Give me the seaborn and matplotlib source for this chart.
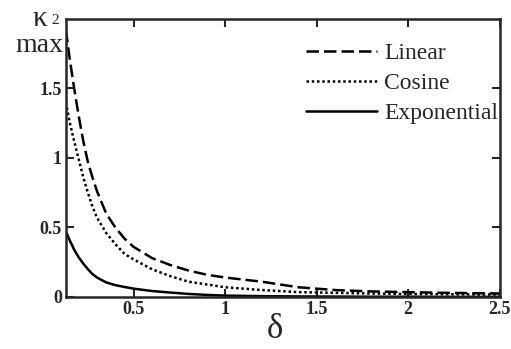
import pandas as pd
import matplotlib
matplotlib.use("Agg")
import matplotlib.pyplot as plt
import seaborn as sns

# data
delta = [0.13, 0.15, 0.175, 0.2, 0.225, 0.25, 0.275, 0.3, 0.35, 0.4, 0.45, 0.5, 0.6, 0.7, 0.8, 0.9,
         1.0, 1.2, 1.4, 1.6, 1.8, 2.0, 2.2, 2.4, 2.5]
linear = [1.92, 1.72, 1.50, 1.30, 1.12, 0.97, 0.86, 0.76, 0.60, 0.50, 0.42, 0.36, 0.28, 0.23, 0.19, 0.16,
          0.14, 0.11, 0.07, 0.05, 0.04, 0.035, 0.03, 0.027, 0.025]
cosine = [1.40, 1.26, 1.12, 0.99, 0.86, 0.75, 0.65, 0.57, 0.46, 0.38, 0.31, 0.27, 0.20, 0.15, 0.11, 0.09,
          0.07, 0.05, 0.035, 0.03, 0.025, 0.022, 0.02, 0.018, 0.018]
exponential = [0.47, 0.41, 0.34, 0.285, 0.24, 0.20, 0.165, 0.14, 0.105, 0.085, 0.072, 0.06, 0.043, 0.032, 0.022, 0.015,
               0.01, 0.006, 0.004, 0.003, 0.002, 0.002, 0.001, 0.001, 0.001]
series_names = ["Linear", "Cosine", "Exponential"]
x_ticks = [0.5, 1, 1.5, 2, 2.5]
x_labels = ["0.5", "1", "1.5", "2", "2.5"]
y_ticks = [0, 0.5, 1, 1.5]
y_labels = ["0", "0.5", "1", "1.5"]

df = pd.DataFrame({"delta": delta * 3,
                   "kappa": linear + cosine + exponential,
                   "curve": [n for n in series_names for _ in delta]})

sns.set_style("ticks")
plt.rcParams["font.family"] = ["Liberation Serif", "DejaVu Serif"]

fig = plt.figure(figsize=(5.11, 3.49), dpi=100)
ax = fig.add_axes([0.129, 0.149, 0.849, 0.797])

styles = {"Linear": (0, (5, 2)), "Cosine": (0, (1, 1.1)), "Exponential": "-"}
for name in series_names:
    sns.lineplot(data=df[df["curve"] == name], x="delta", y="kappa", ax=ax,
                 color="black", linewidth=1.8, linestyle=styles[name], label=name)

ax.set_xlim(0.13, 2.5)
ax.set_ylim(0, 2)
ax.set_xticks(x_ticks)
ax.set_xticklabels(x_labels, fontweight="bold", fontsize=13)
ax.set_yticks(y_ticks)
ax.set_yticklabels(y_labels, fontweight="bold", fontsize=13)
ax.tick_params(direction="in", length=6, width=1.5, top=True, right=True, pad=3)
for s in ax.spines.values():
    s.set_linewidth(1.8)
    s.set_visible(True)

ax.set_xlabel("")
ax.set_ylabel("")
fig.text(275 / 511, 1 - 338 / 349, "δ", fontsize=25, ha="center", va="baseline")
fig.text(32 / 511, 1 - 26 / 349, "κ", fontsize=21, ha="left", va="baseline")
fig.text(51 / 511, 1 - 24 / 349, "2", fontsize=11, ha="left", va="baseline")
fig.text(63 / 511, 1 - 52 / 349, "max", fontsize=20, ha="right", va="baseline")

leg = ax.legend(loc="upper right", bbox_to_anchor=(1.045, 0.99), frameon=False, fontsize=17,
                handlelength=3.0, handletextpad=0.3, labelspacing=0.35)

fig.savefig("out.png", dpi=100)
